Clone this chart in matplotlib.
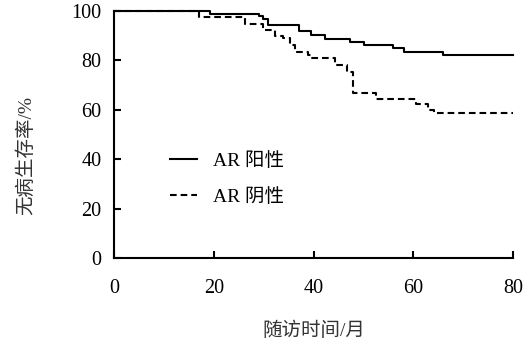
import matplotlib
matplotlib.use("Agg")
import matplotlib.pyplot as plt

# Data
pos_t = [0, 19.2, 29.1, 29.9, 30.9, 37.0, 39.5, 42.3, 47.3, 50.1, 56.0, 58.2, 66.0, 80]
pos_v = [100, 98.8, 98.0, 96.6, 94.3, 91.8, 90.3, 88.5, 87.4, 86.2, 84.9, 83.5, 82.0, 82.0]
neg_t = [0, 17.0, 26.2, 29.8, 32.3, 33.8, 35.3, 36.3, 38.9, 39.6, 44.3, 46.7, 48.0, 52.6, 60.5, 63.0, 64.2, 80]
neg_v = [100, 97.4, 94.6, 92.3, 89.7, 88.9, 86.2, 83.6, 82.2, 80.8, 78.1, 75.4, 67.0, 64.2, 62.2, 60.0, 58.6, 58.6]
series_labels = ["AR 阳性", "AR 阴性"]
x_ticks = [0, 20, 40, 60, 80]
y_ticks = [0, 20, 40, 60, 80, 100]
x_label = "随访时间/月"
y_label = "无病生存率/%"

fam = ["Liberation Serif", "Noto Sans CJK SC"]
plt.rcParams["font.family"] = fam

fig = plt.figure(figsize=(5.32, 3.44), dpi=100)
ax = fig.add_axes([114/532, 1-258/344, (513-114)/532, (258-11)/344])

ax.step(pos_t, pos_v, where="post", color="black", lw=1.5, label=series_labels[0], clip_on=False)
ax.step(neg_t, neg_v, where="post", color="black", lw=1.5, linestyle=(0, (3.2, 1.9)),
        label=series_labels[1], clip_on=False)

ax.set_xlim(0, 80)
ax.set_ylim(0, 100)
ax.set_xticks(x_ticks)
ax.set_yticks(y_ticks)
for s in ["top", "right"]:
    ax.spines[s].set_visible(False)
for s in ["left", "bottom"]:
    ax.spines[s].set_linewidth(1.5)
ax.tick_params(direction="in", length=5, width=1.5, labelsize=14.5, colors="black")
ax.tick_params(axis="y", pad=9)
ax.tick_params(axis="x", pad=15)

ax.set_xlabel(x_label, fontsize=14, family=fam, color="#333333", labelpad=17)
fig.text(26/532, 1-156/344, y_label, rotation=90, ha="center", va="center",
         fontsize=14, family=fam, color="#333333")

leg = ax.legend(frameon=False, loc="upper left", bbox_to_anchor=((170-114)/399, (258-152)/247),
                fontsize=14, handlelength=1.4, handletextpad=0.8, labelspacing=0.95,
                borderaxespad=0, borderpad=0)

fig.savefig("out.png", dpi=100)
